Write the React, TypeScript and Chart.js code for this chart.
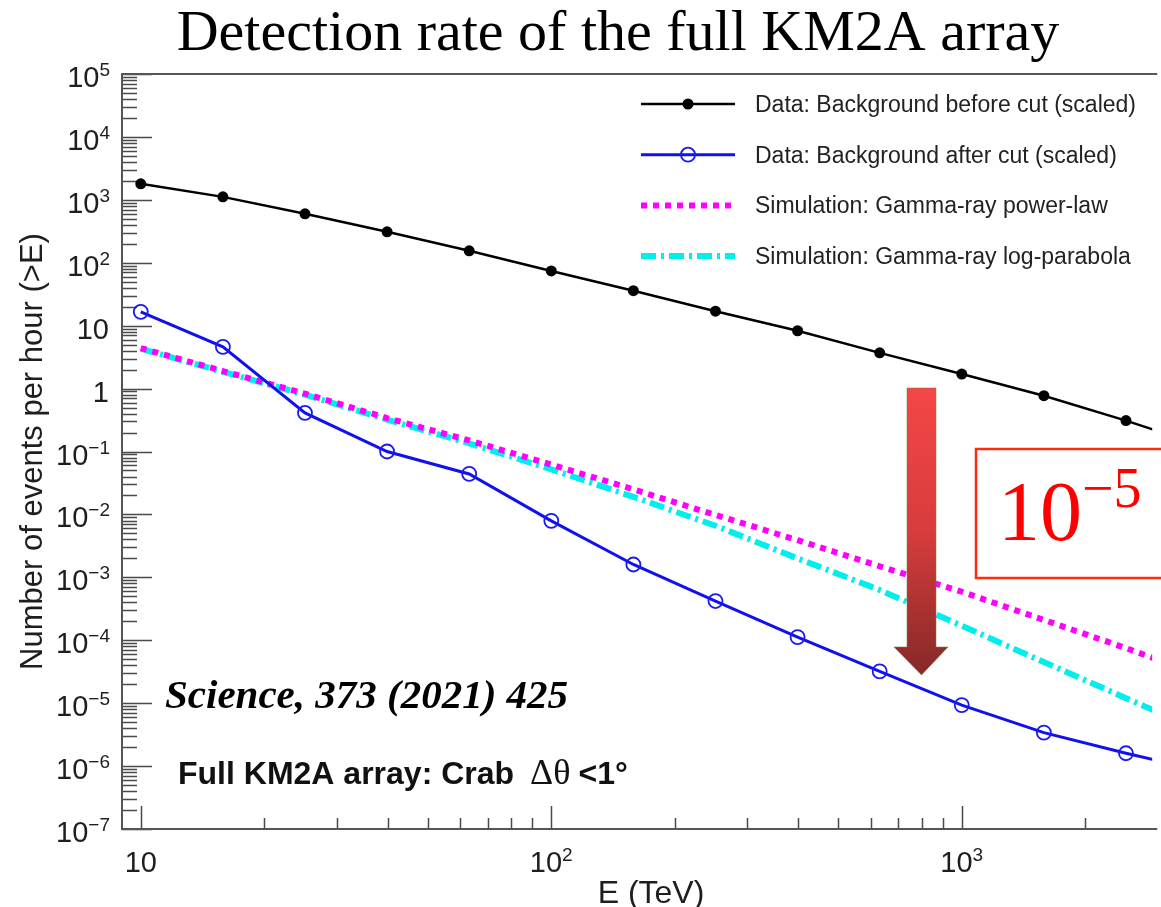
import React, { useEffect, useRef } from "react";
import { Chart, registerables } from "chart.js";

Chart.register(...registerables);

// ---------------- data ----------------
const energies = [10, 15.85, 25.12, 39.81, 63.1, 100, 158.5, 251.2, 398.1, 631, 1000, 1585, 2512, 3981];
const bgBeforeCut = [1800, 1115, 600, 310, 155, 74, 36, 17, 8.3, 3.7, 1.7, 0.77, 0.31, 0.115];
const bgAfterCut = [16.6, 4.6, 0.41, 0.1, 0.044, 0.0079, 0.0016, 4.2e-4, 1.12e-4, 3.2e-5, 9.3e-6, 3.4e-6, 1.6e-6, 8e-7];
const simPowerLaw = [4.4, 1.9, 0.83, 0.34, 0.15, 0.062, 0.025, 0.0098, 0.0039, 0.0015, 5.9e-4, 2.1e-4, 7.5e-5, 2.5e-5];
const simLogParabola = [4.3, 1.85, 0.8, 0.32, 0.135, 0.052, 0.019, 0.0066, 0.002, 6.3e-4, 1.7e-4, 4.5e-5, 1.2e-5, 3.2e-6];

const seriesLabels = [
  "Data: Background before cut (scaled)",
  "Data: Background after cut (scaled)",
  "Simulation: Gamma-ray power-law",
  "Simulation: Gamma-ray log-parabola",
];

const yTickExponents = [-7, -6, -5, -4, -3, -2, -1, 0, 1, 2, 3, 4, 5];
const xTickValues = [10, 100, 1000];
const xTickExponents = [1, 2, 3];
const xRange = [9, 2910];
const yRange = [1e-7, 1e5];

const titleText = "Detection rate of the full KM2A array";
const yTitle = "Number of events per hour (>E)";
const xTitle = "E (TeV)";
const refText = "Science, 373 (2021) 425";
const noteText = "Full KM2A array: Crab";

const toXY = (ys: number[]) => energies.map((x, i) => ({ x, y: ys[i] }));

function drawPow(
  ctx: CanvasRenderingContext2D,
  base: string,
  exp: string | null,
  x: number,
  y: number,
  align: "right" | "center" | "left",
  baseFont: string,
  supFont: string,
  supDy: number
) {
  ctx.font = baseFont;
  const wb = ctx.measureText(base).width;
  ctx.font = supFont;
  const we = exp ? ctx.measureText(exp).width : 0;
  const total = wb + we;
  let sx = x;
  if (align === "right") sx = x - total;
  else if (align === "center") sx = x - total / 2;
  ctx.textAlign = "left";
  ctx.font = baseFont;
  ctx.fillText(base, sx, y);
  if (exp) {
    ctx.font = supFont;
    ctx.fillText(exp, sx + wb, y - supDy);
  }
}

const supOf = (e: number) => (e < 0 ? "\u2212" + Math.abs(e) : String(e));

const decorPlugin = {
  id: "decor",
  beforeDatasetsDraw(chart: any) {
    const { ctx, chartArea: a, scales } = chart;
    const xs = scales.x;
    const ys = scales.y;
    ctx.save();
    ctx.strokeStyle = "#4a4a4a";
    ctx.lineWidth = 1.5;
    ctx.beginPath();
    for (let e = -7; e <= 4; e++) {
      for (let m = 1; m <= 9; m++) {
        const v = m * Math.pow(10, e);
        const y = Math.round(ys.getPixelForValue(v)) + 0.5;
        const len = m === 1 ? 30 : 15;
        ctx.moveTo(a.left, y);
        ctx.lineTo(a.left + len, y);
      }
    }
    {
      const y = Math.round(ys.getPixelForValue(1e5)) + 0.5;
      ctx.moveTo(a.left, y);
      ctx.lineTo(a.left + 30, y);
    }
    for (let e = 0; e <= 3; e++) {
      for (let m = 1; m <= 9; m++) {
        const v = m * Math.pow(10, e);
        if (v < xRange[0] + 0.5 || v > xRange[1]) continue;
        const x = Math.round(xs.getPixelForValue(v)) + 0.5;
        const len = m === 1 ? 23 : 11;
        ctx.moveTo(x, a.bottom);
        ctx.lineTo(x, a.bottom - len);
      }
    }
    ctx.stroke();
    ctx.strokeStyle = "#555";
    ctx.lineWidth = 2;
    ctx.beginPath();
    ctx.moveTo(a.right + 5, a.top);
    ctx.lineTo(a.left, a.top);
    ctx.lineTo(a.left, a.bottom);
    ctx.lineTo(a.right + 5, a.bottom);
    ctx.stroke();
    ctx.restore();
  },
  afterDatasetsDraw(chart: any) {
    const { ctx, chartArea: a, scales } = chart;
    const xs = scales.x;
    const ys = scales.y;
    ctx.save();
    ctx.textBaseline = "alphabetic";
    ctx.fillStyle = "#1e1e1e";
    const baseFont = '29px "Liberation Sans", Arial, sans-serif';
    const supFont = '19px "Liberation Sans", Arial, sans-serif';
    // y tick labels
    yTickExponents.forEach((e) => {
      const y = ys.getPixelForValue(Math.pow(10, e));
      if (e === 0) drawPow(ctx, "1", null, 109, y + 13, "right", baseFont, supFont, 0);
      else if (e === 1) drawPow(ctx, "10", null, 109, y + 13, "right", baseFont, supFont, 0);
      else drawPow(ctx, "10", supOf(e), 110, y + 13, "right", baseFont, supFont, 11);
    });
    // x tick labels
    xTickValues.forEach((v, i) => {
      const x = xs.getPixelForValue(v);
      const e = xTickExponents[i];
      if (e === 1) drawPow(ctx, "10", null, x, 872, "center", baseFont, supFont, 0);
      else drawPow(ctx, "10", supOf(e), x, 872, "center", baseFont, supFont, 11);
    });
    // axis titles
    ctx.font = '32px "Liberation Sans", Arial, sans-serif';
    ctx.textAlign = "center";
    ctx.fillText(xTitle, 651, 903);
    ctx.save();
    ctx.translate(42, (a.top + a.bottom) / 2);
    ctx.rotate(-Math.PI / 2);
    ctx.font = '31px "Liberation Sans", Arial, sans-serif';
    ctx.fillText(yTitle, 0, 0);
    ctx.restore();

    // title
    ctx.fillStyle = "#000";
    ctx.font = '58px "Liberation Serif", "Times New Roman", serif';
    ctx.textAlign = "center";
    ctx.fillText(titleText, 618, 50);

    // reference text
    ctx.textAlign = "left";
    ctx.font = 'italic bold 41px "Liberation Serif", serif';
    ctx.fillText(refText, 165, 708);

    // note text
    ctx.font = 'bold 32px "Liberation Sans", Arial, sans-serif';
    ctx.fillStyle = "#111";
    ctx.fillText(noteText, 178, 784);
    let nx = 178 + ctx.measureText(noteText).width + 16;
    ctx.font = '36px "Liberation Serif", serif';
    ctx.fillText("\u0394\u03b8", nx, 784);
    nx += ctx.measureText("\u0394\u03b8").width + 8;
    ctx.font = 'bold 32px "Liberation Sans", Arial, sans-serif';
    ctx.fillText("<1\u00b0", nx, 784);

    // legend
    const ds = chart.data.datasets;
    ds.forEach((d: any, i: number) => {
      const y = 104 + i * 50.7;
      ctx.save();
      ctx.strokeStyle = d.borderColor;
      ctx.lineWidth = d.borderWidth;
      ctx.setLineDash(d.borderDash || []);
      ctx.lineCap = "butt";
      ctx.beginPath();
      ctx.moveTo(641, y);
      ctx.lineTo(735, y);
      ctx.stroke();
      ctx.setLineDash([]);
      if (d.pointRadius > 0) {
        ctx.beginPath();
        ctx.arc(688, y, d.pointRadius, 0, Math.PI * 2);
        if (d.pointBorderWidth > 0) {
          ctx.strokeStyle = d.pointBorderColor;
          ctx.lineWidth = d.pointBorderWidth;
          ctx.stroke();
        } else {
          ctx.fillStyle = d.pointBackgroundColor;
          ctx.fill();
        }
      }
      ctx.restore();
      ctx.fillStyle = "#222";
      ctx.font = '23px "Liberation Sans", Arial, sans-serif';
      ctx.textAlign = "left";
      ctx.fillText(d.label, 755, y + 8);
    });

    // arrow
    ctx.save();
    const g = ctx.createLinearGradient(0, 388, 0, 675);
    g.addColorStop(0, "#f44646");
    g.addColorStop(0.5, "#d83c3c");
    g.addColorStop(1, "#862828");
    ctx.fillStyle = g;
    ctx.beginPath();
    ctx.moveTo(907, 388);
    ctx.lineTo(936, 388);
    ctx.lineTo(936, 647);
    ctx.lineTo(948, 647);
    ctx.lineTo(921.5, 675);
    ctx.lineTo(894, 647);
    ctx.lineTo(907, 647);
    ctx.closePath();
    ctx.fill();
    ctx.strokeStyle = "rgba(120,130,70,0.55)";
    ctx.lineWidth = 1;
    ctx.stroke();
    ctx.restore();

    // red box with 10^-5
    ctx.save();
    ctx.strokeStyle = "#ff2a10";
    ctx.lineWidth = 2.5;
    ctx.strokeRect(976, 449, 300, 129);
    ctx.fillStyle = "#ff0000";
    ctx.font = '84px "Liberation Serif", serif';
    ctx.textAlign = "left";
    ctx.fillText("10", 998, 540);
    ctx.font = '56px "Liberation Serif", serif';
    ctx.fillText("\u22125", 1082, 507);
    ctx.restore();

    ctx.restore();
  },
};

export default function App() {
  const ref = useRef<HTMLCanvasElement | null>(null);
  useEffect(() => {
    if (!ref.current) return;
    const chart = new Chart(ref.current, {
      type: "line",
      data: {
        datasets: [
          {
            label: seriesLabels[0],
            data: toXY(bgBeforeCut),
            borderColor: "#000000",
            borderWidth: 2.5,
            pointRadius: 5.5,
            pointBackgroundColor: "#000000",
            pointBorderColor: "#000000",
            pointBorderWidth: 0,
            fill: false,
            tension: 0,
          } as any,
          {
            label: seriesLabels[1],
            data: toXY(bgAfterCut),
            borderColor: "#1010f0",
            borderWidth: 3,
            pointRadius: 7,
            pointBackgroundColor: "rgba(0,0,0,0)",
            pointBorderColor: "#1a1af0",
            pointBorderWidth: 1.8,
            fill: false,
            tension: 0,
          },
          {
            label: seriesLabels[2],
            data: toXY(simPowerLaw),
            borderColor: "#ff00ff",
            borderWidth: 6,
            borderDash: [6, 6],
            borderCapStyle: "butt",
            pointRadius: 0,
            pointBorderWidth: 0,
            fill: false,
            tension: 0,
          },
          {
            label: seriesLabels[3],
            data: toXY(simLogParabola),
            borderColor: "#00eeee",
            borderWidth: 6,
            borderDash: [15, 5, 3, 5],
            borderCapStyle: "butt",
            pointRadius: 0,
            pointBorderWidth: 0,
            fill: false,
            tension: 0,
          },
        ],
      },
      options: {
        responsive: false,
        animation: false,
        devicePixelRatio: 1,
        layout: { padding: { left: 122, top: 74, right: 0, bottom: 78 } },
        scales: {
          x: { type: "logarithmic", min: xRange[0], max: xRange[1], display: false },
          y: { type: "logarithmic", min: yRange[0], max: yRange[1], display: false },
        },
        plugins: {
          legend: { display: false },
          tooltip: { enabled: false },
          title: { display: false },
        },
      },
      plugins: [decorPlugin],
    } as any);
    return () => chart.destroy();
  }, []);
  return (
    <div style={{ position: "absolute", left: 0, top: 0, width: 1161, height: 907, background: "#fff" }}>
      <canvas ref={ref} width={1161} height={907} style={{ display: "block" }} />
    </div>
  );
}
